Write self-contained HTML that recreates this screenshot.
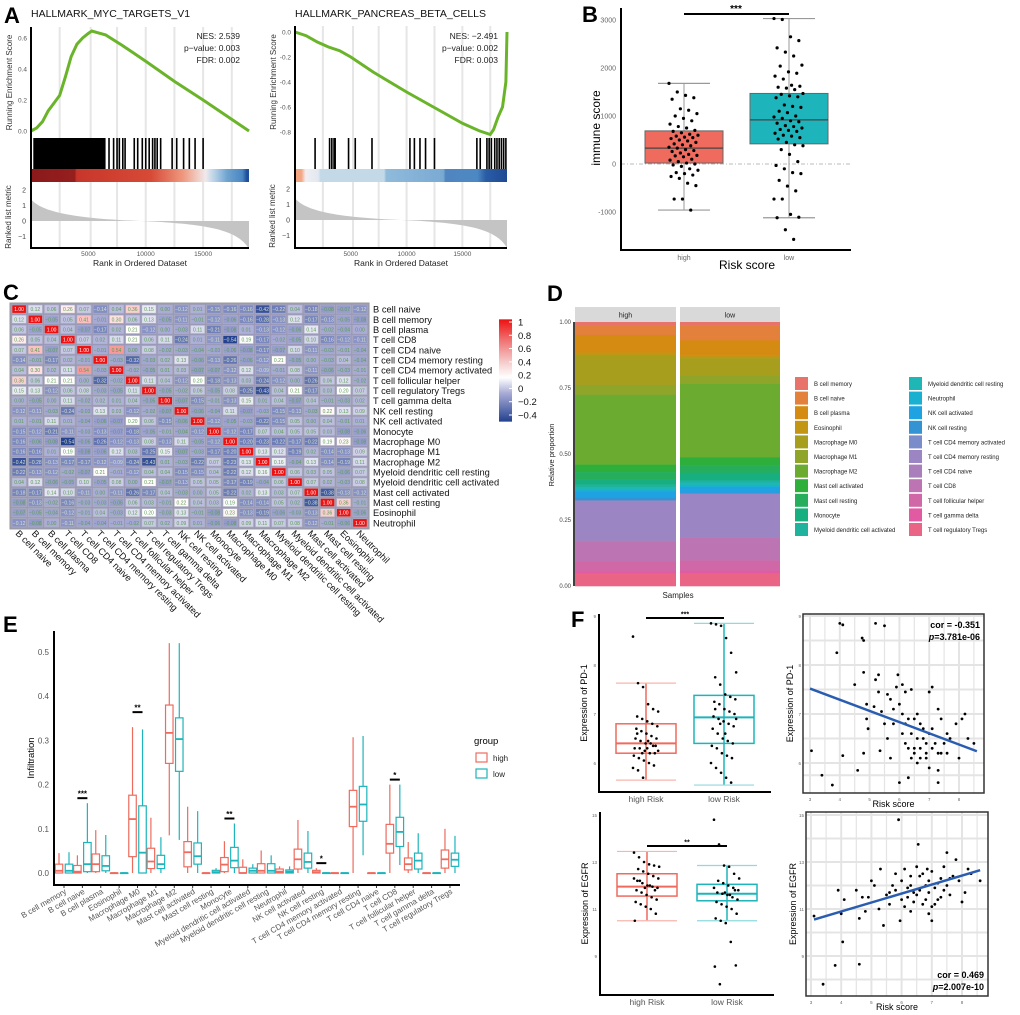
<!DOCTYPE html>
<html><head><meta charset="utf-8"><style>
html,body{margin:0;padding:0;background:#fff;}
svg{display:block;font-family:"Liberation Sans",sans-serif;}
</style></head><body>
<svg id="fig" width="1020" height="1015" viewBox="0 0 1020 1015" xmlns="http://www.w3.org/2000/svg">
<rect x="0" y="0" width="1020" height="1015" fill="#fff"/>
<g font-weight="bold" font-size="22" fill="#000">
<text x="4" y="23">A</text>
<text x="582" y="22">B</text>
<text x="3" y="300">C</text>
<text x="547" y="301">D</text>
<text x="3" y="632">E</text>
<text x="571" y="627">F</text>
</g>
<g id="gA"></g>
<g id="gB"></g>
<g id="gC"></g>
<g id="gD"></g>
<g id="gE"></g>
<g id="gF"></g>
</svg>
<script>
// ---------- DATA ----------
// Panel A
const gseaLeftCurve = [[0,0],[500,0.02],[1000,0.06],[1500,0.13],[2000,0.18],[2500,0.23],[3000,0.35],[3500,0.48],[4000,0.56],[4500,0.60],[5000,0.63],[5300,0.645],[6000,0.63],[6500,0.62],[8000,0.55],[10000,0.45],[12500,0.32],[15000,0.20],[17000,0.10],[19000,0]];
const gseaRightCurve = [[0,0],[1000,-0.03],[2000,-0.08],[3000,-0.12],[4000,-0.15],[5000,-0.2],[7000,-0.32],[10000,-0.48],[13000,-0.63],[15000,-0.73],[16500,-0.79],[17500,-0.82],[17800,-0.78],[18200,-0.68],[18600,-0.6],[18900,-0.4],[19000,0.0]];
const gseaLeftHitBlocks = [[200,6500]];
const gseaLeftHits = [600,6800,7200,7500,7700,8000,8200,9000,9300,9700,10000,10300,10600,10800,11000,11300,12300,12700,13300,13800,14300,15000];
const gseaRightHits = [1800,3100,3300,3500,3600,4800,5400,6900,10300,10700,11200,11700,12500,16300,16600,17200,17400,17600,17900,18100,18300,18500,18700,18900];
const gseaLeftStats = ["NES: 2.539","p\u2212value: 0.003","FDR: 0.002"];
const gseaRightStats = ["NES: \u22122.491","p\u2212value: 0.002","FDR: 0.003"];
const gseaXTicks = [5000,10000,15000];
// Panel B
const bGroups = ["high","low"];
const bBoxHigh = [-960,20,330,690,1680];
const bBoxLow = [-1120,420,920,1470,3030];
const bPtsHigh = [1680,1500,1430,1380,1350,1150,1120,1050,1000,950,900,830,780,750,700,680,650,620,600,580,560,550,530,500,480,450,420,400,380,350,330,300,280,260,230,200,180,170,150,100,80,50,20,0,-20,-50,-100,-130,-180,-200,-230,-260,-300,-400,-450,-730,-730,-960];
const bPtsLow = [3030,3010,2650,2570,2420,2330,2250,2060,2040,1920,1890,1830,1770,1640,1620,1600,1580,1550,1470,1450,1420,1400,1380,1230,1200,1180,1100,1070,1000,980,950,900,880,850,800,780,750,720,700,680,640,600,580,550,520,450,400,380,300,200,50,-30,-100,-180,-200,-340,-460,-560,-730,-730,-1050,-1110,-1120,-1370,-1570];
const bYTicks = [-1000,0,1000,2000,3000];
// Panel C
const cLabels = ["B cell naive","B cell memory","B cell plasma","T cell CD8","T cell CD4  naive","T cell CD4  memory resting","T cell CD4  memory activated","T cell follicular helper","T cell regulatory  Tregs","T cell gamma delta","NK cell resting","NK cell activated","Monocyte","Macrophage M0","Macrophage M1","Macrophage M2","Myeloid dendritic cell resting","Myeloid dendritic cell activated","Mast cell activated","Mast cell resting","Eosinophil","Neutrophil"];
const cCorr = [
[1,.12,.06,.26,.07,-.14,.04,.36,.15,-.00,-.12,.01,-.15,-.16,-.16,-.42,-.22,.04,-.18,-.08,-.07,-.12],
[.12,1,-.05,.05,.41,-.01,.30,.06,.13,-.05,-.11,-.01,-.12,-.06,-.16,-.28,-.13,.12,-.17,-.13,-.05,-.08],
[.06,-.05,1,.04,-.07,-.17,.02,.21,-.12,.00,-.03,.11,-.21,-.08,.01,-.13,-.12,-.06,.14,-.02,-.04,-.00],
[.26,.05,.04,1,.07,.02,.11,.21,.06,.11,-.24,.01,-.11,-.54,.19,-.17,-.02,-.05,.10,-.16,-.12,-.11],
[.07,.41,-.07,.07,1,-.01,.54,.00,.08,-.02,-.03,-.04,-.03,-.06,-.08,-.17,-.07,.10,-.11,-.03,-.01,-.04],
[-.14,-.01,-.17,.02,-.01,1,-.03,-.32,-.03,.02,.13,-.06,-.13,-.26,-.06,-.12,.21,-.05,-.00,-.03,.04,-.04],
[.04,.30,.02,.11,.54,-.03,1,-.02,-.05,.01,.03,-.07,-.07,-.12,.12,-.09,-.01,.08,-.11,-.06,-.03,-.01],
[.36,.06,.21,.21,.00,-.32,-.02,1,.11,.04,-.12,.20,-.18,-.13,.03,-.24,-.12,.00,-.26,.06,.12,-.02],
[.15,.13,-.12,.06,.08,-.03,-.05,.11,1,-.05,-.02,.06,-.05,.08,-.25,-.43,.04,.21,-.17,.03,.20,.07],
[-.00,-.05,.00,.11,-.02,.02,.01,.04,-.05,1,-.07,-.15,-.01,-.13,.15,.01,.04,-.07,.04,-.01,-.03,.02],
[-.12,-.11,-.03,-.24,-.03,.13,.03,-.12,-.02,-.07,1,-.06,-.04,.11,-.07,-.03,-.15,-.13,-.03,.22,.13,.09],
[.01,-.01,.11,.01,-.04,-.06,-.07,.20,.06,-.15,-.06,1,-.12,-.05,-.03,-.22,-.15,.05,.00,.04,-.01,.01],
[-.15,-.12,-.21,-.11,-.03,-.13,-.07,-.18,-.05,-.01,-.04,-.12,1,-.12,-.17,.07,.04,.05,.05,.03,-.08,-.06],
[-.16,-.06,-.08,-.54,-.06,-.26,-.12,-.13,.08,-.13,.11,-.05,-.12,1,-.20,-.23,-.22,-.17,-.22,.19,.23,-.08],
[-.16,-.16,.01,.19,-.08,-.06,.12,.03,-.25,.15,-.07,-.03,-.17,-.20,1,.13,.12,-.19,.02,-.14,-.13,.09],
[-.42,-.28,-.13,-.17,-.17,-.12,-.09,-.24,-.43,.01,-.03,-.22,.07,-.23,.13,1,.16,-.04,.13,-.14,-.19,.11],
[-.22,-.13,-.12,-.02,-.07,.21,-.01,-.12,.04,.04,-.15,-.15,.04,-.22,.12,.16,1,.06,.03,.05,-.06,.07],
[.04,.12,-.06,-.05,.10,-.05,.08,.00,.21,-.07,-.13,.05,.05,-.17,-.19,-.04,.06,1,.07,.02,-.03,.08],
[-.18,-.17,.14,.10,-.11,-.00,-.11,-.26,-.17,.04,-.03,.00,.05,-.22,.02,.13,.03,.07,1,-.38,-.13,-.12],
[-.08,-.13,-.02,-.16,-.03,-.03,-.06,.06,.03,-.01,.22,.04,.03,.19,-.14,-.14,.05,.02,-.38,1,.36,-.01],
[-.07,-.05,-.04,-.12,-.01,.04,-.03,.12,.20,-.03,.13,-.01,-.08,.23,-.13,-.19,-.06,-.03,-.13,.36,1,-.06],
[-.12,-.08,-.00,-.11,-.04,-.04,-.01,-.02,.07,.02,.09,.01,-.06,-.08,.09,.11,.07,.08,-.12,-.01,-.06,1]];
const cScaleTicks = [1,0.8,0.6,0.4,0.2,0,-0.2,-0.4];
// Panel D
const dTypes = ["B cell memory","B cell naive","B cell plasma","Eosinophil","Macrophage M0","Macrophage M1","Macrophage M2","Mast cell activated","Mast cell resting","Monocyte","Myeloid dendritic cell activated","Myeloid dendritic cell resting","Neutrophil","NK cell activated","NK cell resting","T cell CD4  memory activated","T cell CD4  memory resting","T cell CD4  naive","T cell CD8","T cell follicular helper","T cell gamma delta","T cell regulatory  Tregs"];
const dColors = ["#E8736A","#E2803C","#D58B12","#C29514","#A89E1E","#8FA52A","#6AAB30","#2EAE3A","#26AE5C","#18AF80","#1FB29C","#1FB6B6","#1AB0D0","#1EA2E2","#3493D2","#7B8CCA","#9B85C2","#AA7EBB","#BD74B2","#D068A8","#E25BA2","#EA6585"];
const dHigh = [.012,.04,.07,.01,.12,.04,.28,.03,.03,.02,.01,.012,.006,.025,.01,.002,.16,.002,.08,.04,.01,.05];
const dLow  = [.012,.06,.06,.01,.07,.03,.29,.03,.03,.03,.008,.012,.006,.022,.003,.002,.17,.002,.09,.04,.01,.05];
const dYTicks = [0,0.25,0.5,0.75,1];
// Panel E
const eCats = ["B cell memory","B cell naive","B cell plasma","Eosinophil","Macrophage M0","Macrophage M1","Macrophage M2","Mast cell activated","Mast cell resting","Monocyte","Myeloid dendritic cell activated","Myeloid dendritic cell resting","Neutrophil","NK cell activated","NK cell resting","T cell CD4  memory activated","T cell CD4  memory resting","T cell CD4  naive","T cell CD8","T cell follicular helper","T cell gamma delta","T cell regulatory  Tregs"];
const eHigh = [[0,0,.005,.02,.045],[0,0,.003,.017,.04],[0,.003,.02,.043,.097],[0,0,0,0,.002],[0,.037,.122,.176,.33],[0,.01,.026,.056,.125],[.085,.248,.317,.38,.52],[0,.014,.047,.071,.15],[0,0,0,0,.001],[0,.003,.019,.035,.072],[0,0,0,.013,.031],[0,0,.005,.021,.051],[0,0,.003,.009,.015],[0,.009,.031,.054,.12],[0,0,.002,.006,.011],[0,0,0,0,.001],[0,.105,.15,.187,.307],[0,0,0,0,.001],[0,.045,.066,.11,.2],[0,.007,.02,.034,.07],[0,0,0,0,.001],[0,.011,.031,.052,.1]];
const eLow = [[0,0,.005,.02,.047],[0,.003,.02,.069,.158],[0,.005,.016,.039,.086],[0,0,0,0,.002],[0,0,.046,.152,.325],[0,.01,.02,.04,.081],[.075,.23,.303,.351,.52],[0,.02,.038,.068,.14],[0,0,.002,.006,.011],[0,.012,.028,.058,.112],[0,0,.005,.011,.02],[0,0,.005,.021,.04],[0,0,.003,.007,.015],[0,.011,.025,.045,.095],[0,0,0,0,.002],[0,0,0,0,.001],[.04,.117,.155,.196,.31],[0,0,0,0,.001],[.018,.06,.093,.126,.2],[0,.009,.028,.045,.09],[0,0,0,0,.001],[0,.015,.03,.045,.084]];
const eSig = ["","***","","","**","","","","","**","","","","","*","","","","*","","",""];
const eYTicks = [0,0.1,0.2,0.3,0.4,0.5];
// Panel F
const fPdBoxHigh = [5.65,6.2,6.4,6.8,7.63];
const fPdBoxLow = [5.55,6.4,6.93,7.38,8.85];
const fPdHigh = [8.58,7.63,7.55,7.2,7.1,7.05,6.95,6.9,6.85,6.8,6.75,6.7,6.65,6.6,6.55,6.5,6.5,6.45,6.4,6.4,6.35,6.3,6.3,6.25,6.2,6.2,6.15,6.1,6.05,6.0,5.95,5.9,5.85,5.7,6.45,6.35,6.25,6.6,6.2,6.3];
const fPdLow = [8.85,8.83,8.8,8.55,8.25,7.85,7.75,7.6,7.4,7.35,7.3,7.25,7.2,7.1,7.05,7.0,6.95,6.9,6.85,6.8,6.75,6.7,6.6,6.5,6.45,6.4,6.35,6.3,6.2,6.15,6.1,6.0,5.9,5.8,5.7,5.6,6.9,7.1,6.8,6.6];
const fEgBoxHigh = [10.5,11.55,11.95,12.5,13.45];
const fEgBoxLow = [10.5,11.35,11.65,12.05,12.85];
const fEgHigh = [13.4,13.2,13.0,12.9,12.85,12.8,12.7,12.6,12.5,12.4,12.3,12.2,12.1,12.0,11.95,11.9,11.8,11.7,11.6,11.5,11.4,11.3,11.2,11.1,11.0,10.8,10.5,12.2,11.9,12.0,11.8,12.3];
const fEgLow = [14.8,13.75,12.85,12.8,12.5,12.3,12.2,12.1,12.0,11.9,11.8,11.7,11.65,11.6,11.5,11.4,11.3,11.2,11.1,11.0,10.8,10.6,10.5,10.4,9.6,8.6,8.55,7.8,11.7,11.6,11.8,11.9];
const fPdScatterX = [3.05,3.4,3.75,4.0,4.1,3.9,4.1,4.6,4.75,4.8,4.8,4.5,5.2,5.5,4.9,4.9,4.95,4.8,5.3,5.2,5.3,5.15,5.4,5.5,5.6,5.7,5.8,5.9,5.95,6.1,6.2,6.4,6.0,6.1,5.35,5.6,5.7,6.0,6.3,6.2,6.3,6.4,6.5,6.6,6.7,6.8,6.9,7.0,7.0,7.1,7.1,7.0,7.3,7.3,7.3,7.2,7.4,7.5,7.6,7.7,7.9,8.0,8.1,8.2,8.3,8.5,6.5,6.7,6.9,6.6,6.2,6.8,6.5,7.3,7.6,6.4,6.3,6.9,7.1,7.4,6.1,5.8,6.6,6.7];
const fPdScatterY = [6.25,5.75,5.55,8.85,8.82,8.25,6.15,5.85,8.55,8.5,7.85,7.6,8.85,8.8,7.2,6.9,6.7,6.2,7.8,7.7,7.45,7.15,7.05,6.8,7.4,7.3,7.1,7.55,7.8,7.6,7.45,7.5,7.2,7.0,6.25,6.5,6.1,5.6,5.7,6.4,6.9,6.6,6.3,6.0,6.8,6.5,6.2,6.6,5.9,6.3,7.55,7.45,7.1,5.85,5.6,6.4,6.9,6.4,6.2,6.5,6.8,6.1,6.9,7.0,6.5,6.4,6.2,6.3,6.4,6.5,6.8,6.7,6.9,6.2,6.6,6.1,6.3,6.1,6.7,6.2,6.6,6.8,7.0,6.1];
const fPdFit = [[3,7.52],[8.6,6.24]];
const fEgScatterX = [3.1,3.4,3.8,4.05,4.0,3.9,4.1,4.6,4.5,4.6,4.7,4.9,4.8,5.0,5.1,5.3,5.25,5.4,5.5,5.6,5.7,5.8,5.9,5.95,6.0,6.1,6.2,6.3,6.3,6.4,6.5,6.55,6.6,6.7,6.8,6.9,6.9,7.0,7.0,7.1,7.2,7.3,7.4,7.5,7.5,7.6,7.7,7.8,7.9,8.0,8.1,8.2,8.3,8.6,6.0,6.2,6.4,6.6,6.7,6.8,6.9,7.1,7.2,7.3,7.4,6.5,6.3,5.8,5.6,6.1,7.6,7.0,6.85];
const fEgScatterY = [10.7,7.8,8.6,9.6,10.8,11.8,11.4,8.65,11.8,10.6,11.5,11.5,10.9,12.2,12.0,12.7,11.0,10.3,11.6,11.2,12.0,11.8,14.8,10.5,12.2,12.7,11.5,12.0,10.9,11.7,12.8,13.75,12.4,11.2,12.0,11.7,10.8,10.5,12.6,11.9,11.4,12.3,12.8,13.4,12.0,11.6,12.4,13.1,12.2,11.3,11.7,12.7,12.5,12.2,11.4,11.9,11.3,11.8,12.5,11.4,12.2,11.2,12.1,11.5,11.8,11.6,12.4,12.5,11.7,11.1,12.3,11.1,12.7];
const fEgFit = [[3.1,10.55],[8.6,12.65]];

// ---------- HELPERS ----------
const NS="http://www.w3.org/2000/svg";
function mk(parent, tag, attrs, txt){const e=document.createElementNS(NS,tag);for(const k in attrs)e.setAttribute(k,attrs[k]);if(txt!==undefined)e.textContent=txt;parent.appendChild(e);return e;}
function lin(d0,d1,r0,r1){return v=>r0+(v-d0)/(d1-d0)*(r1-r0);}
function jit(i,n){return (((i*37)%n)/n)-0.5;}

// ---------- PANEL A ----------
const gA=document.getElementById('gA');
function gsea(o){
  const x=lin(0,19000,o.x0,o.x1), y=lin(o.e0,o.e1,o.ey0,o.ey1);
  const g=mk(gA,'g',{});
  
  
  [2500,5200,7500,10000,12500,15000,17500].forEach(v=>{const l=mk(g,'line',{x1:x(v),x2:x(v),y1:o.top,y2:o.bottom,stroke:'#e6e6e6','stroke-width':2});
    
    });
  const t=mk(g,'text',{x:o.x0,y:17,'font-size':10.5,fill:'#111'},o.title);
  
  
  const p=mk(g,'path',{d:'M'+o.curve.map(c=>x(c[0])+','+y(c[1])).join('L'),fill:'none',stroke:'#6ab42a','stroke-width':3});
  
  
  o.eTicks.forEach(v=>{const tt=mk(g,'text',{x:o.x0-4,y:y(v)+2.5,'font-size':6.5,fill:'#555','text-anchor':'end'},v.toFixed(1));
    
    });
  const yl=mk(g,'text',{transform:`translate(${o.x0-19},${(o.top+o.hitTop)/2}) rotate(-90)`,'font-size':8,'text-anchor':'middle',fill:'#333'},'Running Enrichment Score');
  
  
  o.stats.forEach((s,i)=>{const st=mk(g,'text',{x:o.statX,y:39+i*12,'font-size':8.5,'text-anchor':'end',fill:'#222'},s);
    
    });
  (o.blocks||[]).forEach(b=>{const r=mk(g,'rect',{x:x(b[0]),y:o.hitTop,width:x(b[1])-x(b[0]),height:31,fill:'#000'});
    
    });
  o.hits.forEach(h=>{const r=mk(g,'rect',{x:x(h)-0.8,y:o.hitTop,width:1.6,height:31,fill:'#000'});
    
    });
  const gid='grad'+o.name;
  const defs=mk(g,'defs',{});const lg=mk(defs,'linearGradient',{id:gid,x1:0,x2:1,y1:0,y2:0});
  o.stops.forEach(s=>mk(lg,'stop',{offset:s[0],'stop-color':s[1]}));
  const cb=mk(g,'rect',{x:o.x0,y:o.hitTop+31,width:o.x1-o.x0,height:13,fill:`url(#${gid})`});
  
  
  const m=lin(0,2,o.m0,o.m0-31);
  const d=`M${o.x0},${m(0)} L${o.x0},${m(1.4)} C${x(800)},${m(0.7)} ${x(3000)},${m(0.25)} ${x(8000)},${m(0.05)} L${x(11000)},${m(-0.05)} C${x(15000)},${m(-0.25)} ${x(18000)},${m(-0.5)} ${x(19000)},${m(-1.8)} L${x(19000)},${m(0)}Z`;
  const ar=mk(g,'path',{d,fill:'#c4c4c4'});
  
  
  [2,1,0,-1].forEach(v=>{const tt=mk(g,'text',{x:o.x0-5,y:m(v)+2.5,'font-size':7,fill:'#444','text-anchor':'end'},String(v).replace('-','\u2212'));
    
    });
  const yl2=mk(g,'text',{transform:`translate(${o.x0-20},${o.m0-4}) rotate(-90)`,'font-size':8,'text-anchor':'middle',fill:'#333'},'Ranked list metric');
  
  
  const ax=mk(g,'path',{d:`M${o.x0},${o.top} V${o.bottom} H${o.x1}`,fill:'none',stroke:'#000','stroke-width':2});
  
  
  gseaXTicks.forEach(v=>{const tt=mk(g,'text',{x:x(v),y:o.bottom+8,'font-size':6.5,fill:'#555','text-anchor':'middle'},v);
    
    });
  const xl=mk(g,'text',{x:(o.x0+o.x1)/2,y:o.bottom+18,'font-size':8.5,'text-anchor':'middle',fill:'#222'},'Rank in Ordered Dataset');
  
  
}
gsea({name:'gsea-myc',title:'HALLMARK_MYC_TARGETS_V1',x0:31,x1:249,e0:0,e1:0.6,ey0:131,ey1:38,top:27,hitTop:138,m0:221,bottom:248,curve:gseaLeftCurve,blocks:gseaLeftHitBlocks,hits:gseaLeftHits,stats:gseaLeftStats,statX:240,eTicks:[0,0.2,0.4,0.6],
  stops:[[0,'#8b1a1a'],[0.2,'#961e1e'],[0.21,'#c8362b'],[0.55,'#d64a36'],[0.7,'#ef9a80'],[0.8,'#f1e9ea'],[0.84,'#b9d3e8'],[0.9,'#6fa3d0'],[0.97,'#4a86c2'],[0.99,'#1f4e9a'],[1,'#1f4e9a']]});
gsea({name:'gsea-pancreas',title:'HALLMARK_PANCREAS_BETA_CELLS',x0:295,x1:507,e0:0,e1:-0.8,ey0:32,ey1:132,top:26,hitTop:138,m0:220,bottom:248,curve:gseaRightCurve,hits:gseaRightHits,stats:gseaRightStats,statX:498,eTicks:[0,-0.2,-0.4,-0.6,-0.8],
  stops:[[0,'#f4a582'],[0.03,'#f4a582'],[0.05,'#f1eef2'],[0.11,'#e2e8f1'],[0.12,'#c4d9e8'],[0.42,'#c4d9e8'],[0.43,'#8fbadb'],[0.7,'#7aaad3'],[0.71,'#4f86c0'],[0.86,'#4e88c4'],[0.9,'#2a5ca5'],[1,'#1e4a94']]});

// ---------- PANEL B ----------
const gB=document.getElementById('gB');
(function(){
  const y=lin(0,1000,164,116), cx=[684,789], bw=78;
  const dl=mk(gB,'line',{x1:621,x2:851,y1:y(0),y2:y(0),stroke:'#bbb','stroke-dasharray':'4,2,1,2'});
  
  
  [[bBoxHigh,'#EE6B5E',bPtsHigh],[bBoxLow,'#1DB5BB',bPtsLow]].forEach((s,i)=>{
    const b=s[0],c=cx[i];
    const w=mk(gB,'line',{x1:c,x2:c,y1:y(b[0]),y2:y(b[4]),stroke:'#999'});
    
    
    [b[0],b[4]].forEach(v=>{const cap=mk(gB,'line',{x1:c-26,x2:c+26,y1:y(v),y2:y(v),stroke:'#999','stroke-width':1.2});
      
      });
    const r=mk(gB,'rect',{x:c-bw/2,y:y(b[3]),width:bw,height:y(b[1])-y(b[3]),fill:s[1],stroke:'#666'});
    
    
    const md=mk(gB,'line',{x1:c-bw/2,x2:c+bw/2,y1:y(b[2]),y2:y(b[2]),stroke:'#444','stroke-width':1.3});
    
    
    s[2].forEach((v,k)=>{const p=mk(gB,'circle',{cx:c+jit(k,29)*30,cy:y(v),r:1.6,fill:'#000'});
      
      });
    const lt=mk(gB,'text',{x:c,y:260,'font-size':7,fill:'#666','text-anchor':'middle'},bGroups[i]);
    
    
  });
  const ax=mk(gB,'path',{d:'M621,8 V250 H851',fill:'none',stroke:'#000','stroke-width':2});
  
  
  bYTicks.forEach(v=>{const t=mk(gB,'text',{x:616,y:y(v)+2.5,'font-size':7,fill:'#666','text-anchor':'end'},v);
    
    });
  const sb=mk(gB,'line',{x1:684,x2:789,y1:14,y2:14,stroke:'#000','stroke-width':2});
  
  
  const st=mk(gB,'text',{x:736,y:12,'font-size':10,'text-anchor':'middle','font-weight':'bold'},'***');
  
  
  const yl=mk(gB,'text',{transform:'translate(600,128) rotate(-90)','font-size':12,'text-anchor':'middle'},'immune score');
  
  
  const xl=mk(gB,'text',{x:747,y:269,'font-size':12,'text-anchor':'middle'},'Risk score');
  
  
})();

// ---------- PANEL C ----------
const gC=document.getElementById('gC');
(function(){
  const x0=11,y0=304,cw=16.23,ch=10.18,n=cLabels.length;
  function hex(a,b,t){const p=s=>[1,3,5].map(i=>parseInt(s.substr(i,2),16));const A=p(a),B=p(b);return 'rgb('+A.map((v,i)=>Math.round(v+(B[i]-v)*t)).join(',')+')';}
  function col(v){if(v<0)return hex('#a9acd6','#23418e',Math.min(1,-v/0.5));if(v<0.2)return hex('#a9acd6','#ffffff',v/0.2);return hex('#ffffff','#ee1111',Math.min(1,(v-0.2)/0.8));}
  const bg=mk(gC,'rect',{x:x0-1,y:y0-1,width:n*cw+2,height:n*ch+2,fill:'#9a9ab8',stroke:'#999'});
  
  
  for(let i=0;i<n;i++)for(let j=0;j<n;j++){
    const v=cCorr[i][j];
    const r=mk(gC,'rect',{x:x0+j*cw+1,y:y0+i*ch+1,width:cw-2,height:ch-2,fill:col(v),stroke:'#b0b0c0','stroke-width':0.6});
    
    
    const t=mk(gC,'text',{x:x0+j*cw+cw/2,y:y0+i*ch+ch/2+2,'font-size':5,'text-anchor':'middle',fill:(v<-0.08?'#cfe0cf':(v>0.99?'#fff':'#5b9a55'))},(v<0?'\u2212':'')+Math.abs(v).toFixed(2));
    
    
  }
  cLabels.forEach((l,i)=>{
    const t=mk(gC,'text',{x:x0+n*cw+5,y:y0+i*ch+ch/2+3.5,'font-size':9.3,fill:'#111'},l);
    
    
    const t2=mk(gC,'text',{transform:`translate(${x0+i*cw+4},${y0+n*ch+6}) rotate(45)`,'font-size':9.3,fill:'#111'},l);
    
    
  });
  const sy=lin(1,-0.4,322,415);
  const defs=mk(gC,'defs',{});const lg=mk(defs,'linearGradient',{id:'cscale',x1:0,x2:0,y1:0,y2:1});
  [[0,'#ee1111'],[0.2,'#f07070'],[0.43,'#f6d0d0'],[0.57,'#ffffff'],[0.72,'#a9acd6'],[1,'#23418e']].forEach(s=>mk(lg,'stop',{offset:s[0],'stop-color':s[1]}));
  const cb=mk(gC,'rect',{x:499,y:sy(1.04),width:13,height:sy(-0.5)-sy(1.04),fill:'url(#cscale)'});
  
  
  cScaleTicks.forEach(v=>{const t=mk(gC,'text',{x:518,y:sy(v)+3.5,'font-size':9.5,fill:'#111'},(v<0?'\u2212':'')+Math.abs(v));
    
    
    const tk=mk(gC,'line',{x1:509,x2:512,y1:sy(v),y2:sy(v),stroke:'#fff'});
    
    });
})();

// ---------- PANEL D ----------
const gD=document.getElementById('gD');
(function(){
  const y=lin(0,1,586,322);
  const facets=[['high',575,676,dHigh],['low',680,780,dLow]];
  facets.forEach(f=>{
    const strip=mk(gD,'rect',{x:f[1],y:307,width:f[2]-f[1],height:15,fill:'#d9d9d9'});
    
    
    const st=mk(gD,'text',{x:(f[1]+f[2])/2,y:317.5,'font-size':7,'text-anchor':'middle',fill:'#222'},f[0]);
    
    
    const tot=f[3].reduce((a,b)=>a+b,0);
    let cum=1;
    f[3].forEach((v,i)=>{
      const p=v/tot;
      const r=mk(gD,'rect',{x:f[1],y:y(cum),width:f[2]-f[1],height:y(cum-p)-y(cum)+0.3,fill:dColors[i]});
      
      
      cum-=p;
    });
  });
  const ax=mk(gD,'line',{x1:574,x2:574,y1:322,y2:586,stroke:'#000','stroke-width':1.5});
  
  
  dYTicks.forEach(v=>{const t=mk(gD,'text',{x:571,y:y(v)+2,'font-size':6,fill:'#444','text-anchor':'end'},v.toFixed(2));
    
    });
  const yl=mk(gD,'text',{transform:'translate(554,455) rotate(-90)','font-size':7.5,'text-anchor':'middle',fill:'#222'},'Relative proportion');
  
  
  const xl=mk(gD,'text',{x:678,y:598,'font-size':8,'text-anchor':'middle',fill:'#222'},'Samples');
  
  
  dTypes.forEach((l,i)=>{
    const c=i<11?0:1, r=i%11;
    const sx=c?909:795, sy=377+r*14.6;
    const sw=mk(gD,'rect',{x:sx,y:sy,width:13,height:13,fill:dColors[i]});
    
    
    const t=mk(gD,'text',{x:sx+19,y:sy+9,'font-size':6,fill:'#222'},l);
    
    
  });
})();

// ---------- PANEL E ----------
const gE=document.getElementById('gE');
(function(){
  const y=lin(0,0.5,873,652), x=i=>64+i*18.38, bw=7.5;
  function box(b,c,col,name){
    const w1=mk(gE,'line',{x1:c,x2:c,y1:y(b[0]),y2:y(b[4]),stroke:col,'stroke-width':1.2});
    
    
    const r=mk(gE,'rect',{x:c-bw/2,y:y(b[3]),width:bw,height:Math.max(0.5,y(b[1])-y(b[3])),fill:'#fff',stroke:col,'stroke-width':1.2});
    
    
    const m=mk(gE,'line',{x1:c-bw/2,x2:c+bw/2,y1:y(b[2]),y2:y(b[2]),stroke:col,'stroke-width':1.8});
    
    
  }
  eCats.forEach((c,i)=>{
    box(eHigh[i],x(i)-5,'#EE6B5E','box-high');
    box(eLow[i],x(i)+5,'#1DB5BB','box-low');
    const tk=mk(gE,'line',{x1:x(i),x2:x(i),y1:885,y2:888,stroke:'#333'});
    
    
    const t=mk(gE,'text',{transform:`translate(${x(i)+3},${893}) rotate(-30)`,'font-size':8,'text-anchor':'end',fill:'#555'},c);
    
    
    if(eSig[i]){
      const top=Math.max(eHigh[i][4],eLow[i][4]);
      const by=y(top)-5-(i===4?10:0);
      const sb=mk(gE,'line',{x1:x(i)-5,x2:x(i)+5,y1:by,y2:by,stroke:'#000','stroke-width':2});
      
      
      const st=mk(gE,'text',{x:x(i),y:by-1.5,'font-size':8,'text-anchor':'middle','font-weight':'bold'},eSig[i]);
      
      
    }
  });
  const ax=mk(gE,'path',{d:'M54,631 V885 H460',fill:'none',stroke:'#000','stroke-width':2});
  
  
  eYTicks.forEach(v=>{const t=mk(gE,'text',{x:49,y:y(v)+3,'font-size':8,fill:'#555','text-anchor':'end'},v.toFixed(1));
    
    });
  const yl=mk(gE,'text',{transform:'translate(34,758) rotate(-90)','font-size':9.5,'text-anchor':'middle'},'Infiltration');
  
  
  const lt=mk(gE,'text',{x:474,y:744,'font-size':9.5},'group');
  
  
  [['high','#EE6B5E'],['low','#1DB5BB']].forEach((g,i)=>{
    const bx=mk(gE,'rect',{x:476,y:753+i*16,width:11,height:9,fill:'#fff',stroke:g[1],'stroke-width':1.2});
    
    
    const t=mk(gE,'text',{x:493,y:761+i*16,'font-size':8,fill:'#222'},g[0]);
    
    
  });
})();

// ---------- PANEL F ----------
const gF=document.getElementById('gF');
function fBox(o){
  const y=lin(o.v0,o.v1,o.y0,o.y1), cx=[o.cx0,o.cx1], bw=60;
  [[o.bh,'#EE6B5E','#f8b5ae',o.ph],[o.bl,'#1DB5BB','#8fdadd',o.pl]].forEach((s,i)=>{
    const b=s[0],c=cx[i];
    const w=mk(gF,'line',{x1:c,x2:c,y1:y(b[0]),y2:y(b[4]),stroke:s[1],'stroke-width':1.5});
    
    
    [b[0],b[4]].forEach(v=>{const cap=mk(gF,'line',{x1:c-bw/2,x2:c+bw/2,y1:y(v),y2:y(v),stroke:s[2],'stroke-width':1.2});
      
      });
    const r=mk(gF,'rect',{x:c-bw/2,y:y(b[3]),width:bw,height:y(b[1])-y(b[3]),fill:'none',stroke:s[1],'stroke-width':1.5});
    
    
    const md=mk(gF,'line',{x1:c-bw/2,x2:c+bw/2,y1:y(b[2]),y2:y(b[2]),stroke:s[1],'stroke-width':2});
    
    
    s[3].forEach((v,k)=>{const p=mk(gF,'circle',{cx:c+jit(k,31)*26,cy:y(v),r:1.3,fill:'#000'});
      
      });
    const lt=mk(gF,'text',{x:c,y:o.yb+10,'font-size':8.5,fill:'#555','text-anchor':'middle'},i?'low Risk':'high Risk');
    
    
  });
  const ax=mk(gF,'path',{d:`M${o.xa},${o.yt} V${o.yb} H${o.xr}`,fill:'none',stroke:'#000','stroke-width':2});
  
  
  o.ticks.forEach(v=>{const t=mk(gF,'text',{x:o.xa-3,y:y(v)+2,'font-size':4.5,fill:'#666','text-anchor':'end'},v);
    
    });
  const sb=mk(gF,'line',{x1:o.cx0,x2:o.cx1,y1:o.sy,y2:o.sy,stroke:'#000','stroke-width':2});
  
  
  const st=mk(gF,'text',{x:(o.cx0+o.cx1)/2,y:o.sy-1.5,'font-size':7,'text-anchor':'middle','font-weight':'bold'},o.sig);
  
  
  const yl=mk(gF,'text',{transform:`translate(${o.xa-12},${(o.yt+o.yb)/2}) rotate(-90)`,'font-size':9,'text-anchor':'middle'},o.ylab);
  
  
}
function fScatter(o){
  const x=lin(3,8,o.x3,o.x8), y=lin(o.v0,o.v1,o.y0,o.y1);
  const fr=mk(gF,'rect',{x:o.l,y:o.t,width:o.r-o.l,height:o.b-o.t,fill:'#fff'});
  
  
  for(let v=3;v<=8.5;v+=0.5){const l=mk(gF,'line',{x1:x(v),x2:x(v),y1:o.t,y2:o.b,stroke:'#e4e4e4','stroke-width':Number.isInteger(v)?2:1.2});
    
    }
  o.grid.forEach(v=>{const l=mk(gF,'line',{x1:o.l,x2:o.r,y1:y(v),y2:y(v),stroke:'#e4e4e4','stroke-width':2});
    
    });
  o.xs.forEach((xv,i)=>{const p=mk(gF,'circle',{cx:x(xv),cy:y(o.ys[i]),r:1.4,fill:'#000'});
    
    });
  const fl=mk(gF,'line',{x1:x(o.fit[0][0]),y1:y(o.fit[0][1]),x2:x(o.fit[1][0]),y2:y(o.fit[1][1]),stroke:'#2a5db0','stroke-width':2.5});
  
  
  const bd=mk(gF,'rect',{x:o.l,y:o.t,width:o.r-o.l,height:o.b-o.t,fill:'none',stroke:'#333','stroke-width':1.5});
  
  
  [3,4,5,6,7,8].forEach(v=>{const t=mk(gF,'text',{x:x(v),y:o.b+8,'font-size':4.5,fill:'#666','text-anchor':'middle'},v);
    
    });
  o.ticks.forEach(v=>{const t=mk(gF,'text',{x:o.l-2,y:y(v)+2,'font-size':4.5,fill:'#666','text-anchor':'end'},v);
    
    });
  const xl=mk(gF,'text',{x:(o.l+o.r)/2,y:o.b+14,'font-size':9,'text-anchor':'middle'},'Risk score');
  
  
  const yl=mk(gF,'text',{transform:`translate(${o.l-10},${(o.t+o.b)/2}) rotate(-90)`,'font-size':9,'text-anchor':'middle'},o.ylab);
  
  
  const c1=mk(gF,'text',{x:o.r-4,y:o.ty,'font-size':9,'text-anchor':'end','font-weight':'bold'},o.cor);
  
  
  const c2=mk(gF,'text',{x:o.r-4,y:o.ty+12,'font-size':9,'text-anchor':'end','font-weight':'bold'});
  
  
  mk(c2,'tspan',{'font-style':'italic'},'p');
  mk(c2,'tspan',{},o.p);
}
fBox({v0:6,v1:9,y0:763,y1:616,cx0:646,cx1:724,bh:fPdBoxHigh,bl:fPdBoxLow,ph:fPdHigh,pl:fPdLow,xa:599,xr:771,yt:614,yb:792,ticks:[6,7,8,9],sy:618,sig:'***',ylab:'Expression of PD-1'});
fBox({v0:9,v1:15,y0:956,y1:815,cx0:647,cx1:727,bh:fEgBoxHigh,bl:fEgBoxLow,ph:fEgHigh,pl:fEgLow,xa:600,xr:774,yt:812,yb:995,ticks:[9,11,13,15],sy:846,sig:'**',ylab:'Expression of EGFR'});
fScatter({x3:810,x8:959,v0:6,v1:9,y0:763,y1:616,l:803,r:984,t:614,b:793,grid:[5.75,6,6.5,7,7.5,8,8.5,9],xs:fPdScatterX,ys:fPdScatterY,fit:fPdFit,ticks:[6,7,8,9],ylab:'Expression of PD-1',cor:'cor = -0.351',p:'=3.781e-06',ty:628});
fScatter({x3:811,x8:962,v0:9,v1:15,y0:956,y1:815,l:806,r:988,t:812,b:996,grid:[8,9,10,11,12,13,14,15],xs:fEgScatterX,ys:fEgScatterY,fit:fEgFit,ticks:[9,11,13,15],ylab:'Expression of EGFR',cor:'cor = 0.469',p:'=2.007e-10',ty:978});
</script>
</body></html>
